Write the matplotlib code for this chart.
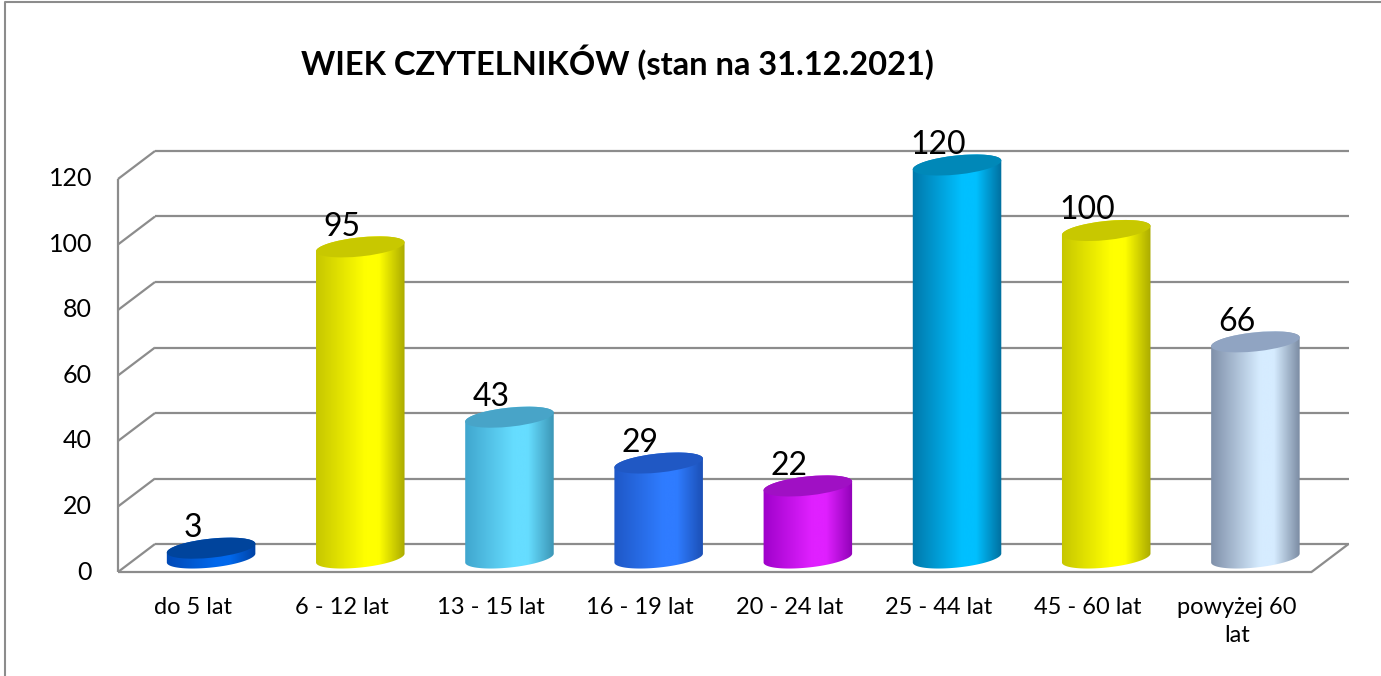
# Wiek czytelników - wykres walcowy 3D (stan na 31.12.2021)

import numpy as np
import matplotlib.pyplot as plt
from matplotlib.colors import LinearSegmentedColormap
from matplotlib.patches import Ellipse, PathPatch
from matplotlib.path import Path
from matplotlib.lines import Line2D
from matplotlib.transforms import Affine2D, ScaledTranslation

categories = ['do 5 lat', '6 - 12 lat', '13 - 15 lat', '16 - 19 lat',
              '20 - 24 lat', '25 - 44 lat', '45 - 60 lat', 'powyżej 60\nlat']
values = [3, 95, 43, 29, 22, 120, 100, 66]
yticks = [0, 20, 40, 60, 80, 100, 120]
title = 'WIEK CZYTELNIKÓW (stan na 31.12.2021)'

# kolory walców: lewa krawędź, odblask, prawa krawędź, wieczko
edge_left = ['#0048b4', '#c4c400', '#3ea4cc', '#1e56c4', '#9c00c8', '#0076a8', '#c4c400', '#7c8ca6']
highlight = ['#0068ec', '#ffff00', '#66ddff', '#2f7cff', '#e020ff', '#00c0ff', '#ffff00', '#d6ecff']
edge_right = ['#003e9c', '#a4a400', '#3890b0', '#1a4cb0', '#8c00b4', '#006896', '#a4a400', '#74849c']
top_colors = ['#00449c', '#c8c800', '#48a4c8', '#2058c4', '#a010c4', '#0088b8', '#c8c800', '#90a4c2']

plt.rcParams['font.family'] = ['Lato', 'DejaVu Sans']

W, H = 1381, 676
YMIN, YMAX = -8, 128
unit = 393 / 120  # piksele na jednostkę osi Y
fig = plt.figure(figsize=(W / 100, H / 100), dpi=100)
ax = fig.add_axes([136.5 / W, (118 + YMIN * unit) / H, 1193.5 / W, (YMAX - YMIN) * unit / H])
ax.set_xlim(-0.5, 7.5)
ax.set_ylim(YMIN, YMAX)
ax.axis('off')

# piksele na jednostkę danych
p0 = ax.transData.transform((0, 0))
p1 = ax.transData.transform((1, 1))
px_x, px_y = p1 - p0
# przesunięcie głębokości (tylna ściana / przednia krawędź)
dx = 18.5 / px_x
dy = 14 / px_y

grid_kw = dict(color='#8c8c8c', lw=1.6, clip_on=False, zorder=1, solid_capstyle='butt')
for v in yticks:
    ax.plot([-0.5 + dx, 7.5 + dx], [v + dy, v + dy], **grid_kw)
    ax.plot([-0.5 + dx, -0.5 - dx], [v + dy, v - dy], **grid_kw)
ax.plot([-0.5 - dx, -0.5 - dx], [-dy, 120 - dy], **grid_kw)
ax.plot([-0.5 - dx, 7.5 - dx], [-dy, -dy], **grid_kw)
ax.plot([7.5 - dx, 7.5 + dx], [-dy, dy], **grid_kw)

# etykiety osi Y
for v in yticks:
    ax.text(-0.5 - dx, v - dy, str(v), ha='right', va='center', fontsize=18,
            transform=ax.transData + Affine2D().translate(-26, 0))

# etykiety kategorii
for i, cat in enumerate(categories):
    ax.text(i - dx, -dy, cat, ha='center', va='top', fontsize=17, linespacing=1.4,
            transform=ax.transData + Affine2D().translate(0, -25))

# walce
a, b, theta = 44.5, 9.5, np.deg2rad(6)
ct, st = np.cos(theta), np.sin(theta)


def ell(t, cy):
    x = a * np.cos(t)
    y = b * np.sin(t)
    return np.column_stack([x * ct - y * st, x * st + y * ct + cy])


for i, v in enumerate(values):
    h = v * px_y
    lower = ell(np.linspace(np.pi, 2 * np.pi, 60), 0)
    upper = ell(np.linspace(0, np.pi, 60), h)
    verts = np.vstack([lower, upper, lower[:1]])
    codes = [Path.MOVETO] + [Path.LINETO] * (len(verts) - 2) + [Path.CLOSEPOLY]
    anchor = Affine2D() + ScaledTranslation(i, 0, ax.transData)
    body = PathPatch(Path(verts, codes), facecolor='none', edgecolor='none',
                     transform=anchor, zorder=2, clip_on=False)
    ax.add_patch(body)

    cmap = LinearSegmentedColormap.from_list(
        'c%d' % i, [(0, edge_left[i]), (0.55, highlight[i]), (0.7, highlight[i]), (1, edge_right[i])])
    grad = np.linspace(0, 1, 256).reshape(1, -1)
    hw = (a + 2) / px_x
    img = ax.imshow(grad, cmap=cmap, extent=[i - hw, i + hw, -20 / px_y, v + 20 / px_y],
                    aspect='auto', interpolation='bicubic', zorder=2)
    img.set_clip_path(body)

    top = Ellipse((0, 0), 2 * a, 2 * b, angle=np.rad2deg(theta),
                  facecolor=top_colors[i], edgecolor='none', zorder=3, clip_on=False,
                  transform=Affine2D() + ScaledTranslation(i, v, ax.transData))
    ax.add_patch(top)

    ax.text(i - dx, v - dy, str(v), ha='center', va='baseline', fontsize=23, zorder=4,
            transform=ax.transData + Affine2D().translate(0, 25))

ax.set_xlim(-0.5, 7.5)
ax.set_ylim(YMIN, YMAX)

# tytuł
fig.text(617 / W, 1 - 62 / H, title, ha='center', va='center', fontsize=23.5, fontweight='bold')

# ramka obszaru wykresu
fig.add_artist(Line2D([5 / W, 5 / W, 1], [0, 1 - 2 / H, 1 - 2 / H], color='#8c8c8c', lw=1.5,
                      transform=fig.transFigure))

fig.savefig('out.png', dpi=100)
